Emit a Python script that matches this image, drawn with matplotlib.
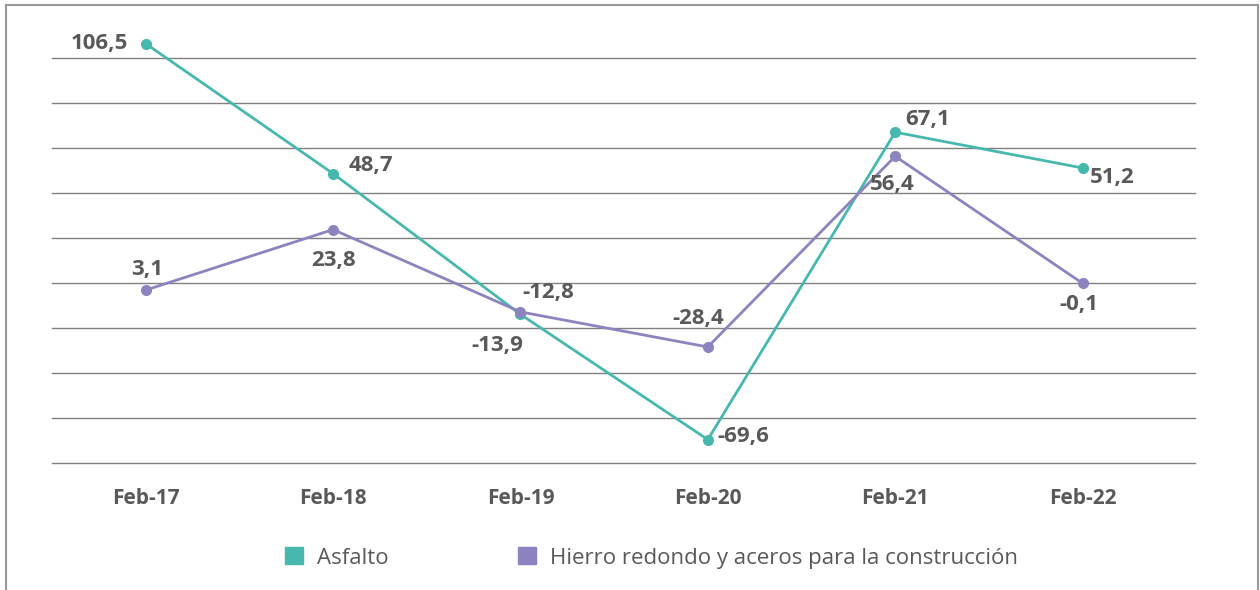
import matplotlib.pyplot as plt
from matplotlib.patches import Patch
from matplotlib.lines import Line2D

plt.rcParams["font.family"] = ["Open Sans", "DejaVu Sans"]

categories = ["Feb-17", "Feb-18", "Feb-19", "Feb-20", "Feb-21", "Feb-22"]
asfalto = [106.5, 48.7, -13.9, -69.6, 67.1, 51.2]
# first point is drawn just under zero in the source, though labelled "3,1"
hierro = [-3.1, 23.8, -12.8, -28.4, 56.4, -0.1]
asfalto_labels = ["106,5", "48,7", "-13,9", "-69,6", "67,1", "51,2"]
hierro_labels = ["3,1", "23,8", "-12,8", "-28,4", "56,4", "-0,1"]

teal = "#47b8ae"
purple = "#8d84bf"
txt = "#595959"

fig = plt.figure(figsize=(12.6, 5.9), dpi=100)
ax = fig.add_axes([52 / 1260, (590 - 463) / 590, (1195 - 52) / 1260, (463 - 20) / 590])

x = range(len(categories))
ax.plot(x, asfalto, color=teal, lw=2, marker="o", ms=7, zorder=3)
ax.plot(x, hierro, color=purple, lw=2, marker="o", ms=7, zorder=3)

ax.set_xlim(-0.5, 5.6)
ax.set_ylim(-80, 117)
ax.set_yticks(range(-80, 101, 20))
ax.yaxis.grid(True, color="#808080", lw=1)
for gl in ax.get_ygridlines():
    gl.set_clip_on(False)
ax.set_axisbelow(True)
ax.tick_params(axis="y", left=False, labelleft=False)
ax.tick_params(axis="x", length=0, pad=18, labelsize=15, labelcolor=txt)
ax.set_xticks(list(x))
ax.set_xticklabels(categories, fontweight="bold")
for s in ax.spines.values():
    s.set_visible(False)

# label offsets in pixels (dx, dy, ha)
asf_off = [(-18, 0, "right"), (16, 8, "left"), (-23, -31, "center"),
           (10, 3, "left"), (10, 13, "left"), (7, -10, "left")]
hie_off = [(1, 21, "center"), (0, -31, "center"), (2, 19, "left"),
           (-10, 28, "center"), (-3, -28, "center"), (-4, -21, "center")]

for i in x:
    dx, dy, ha = asf_off[i]
    ax.annotate(asfalto_labels[i], (i, asfalto[i]), xytext=(dx, dy),
                textcoords="offset pixels", ha=ha, va="center",
                fontsize=16, fontweight="bold", color=txt)
    dx, dy, ha = hie_off[i]
    ax.annotate(hierro_labels[i], (i, hierro[i]), xytext=(dx, dy),
                textcoords="offset pixels", ha=ha, va="center",
                fontsize=16, fontweight="bold", color=txt)

handles = [Patch(color=teal, label="Asfalto"),
           Patch(color=purple, label="Hierro redondo y aceros para la construcción")]
fig.legend(handles=handles, loc="center left", bbox_to_anchor=(285 / 1260, 1 - 558 / 590),
           ncol=2, frameon=False, fontsize=16, labelcolor=txt,
           borderpad=0, borderaxespad=0,
           handlelength=0.8, handleheight=0.8, handletextpad=0.65, columnspacing=5.8)

# outer frame (left, top, right)
fx0, fx1, fy = 6 / 1260, 1258 / 1260, 1 - 5 / 590
for xs, ys in [([fx0, fx0], [0, fy]), ([fx0, fx1], [fy, fy]), ([fx1, fx1], [fy, 0])]:
    fig.add_artist(Line2D(xs, ys, color="#999999", lw=1.5, transform=fig.transFigure))

fig.savefig("out.png", dpi=100)
